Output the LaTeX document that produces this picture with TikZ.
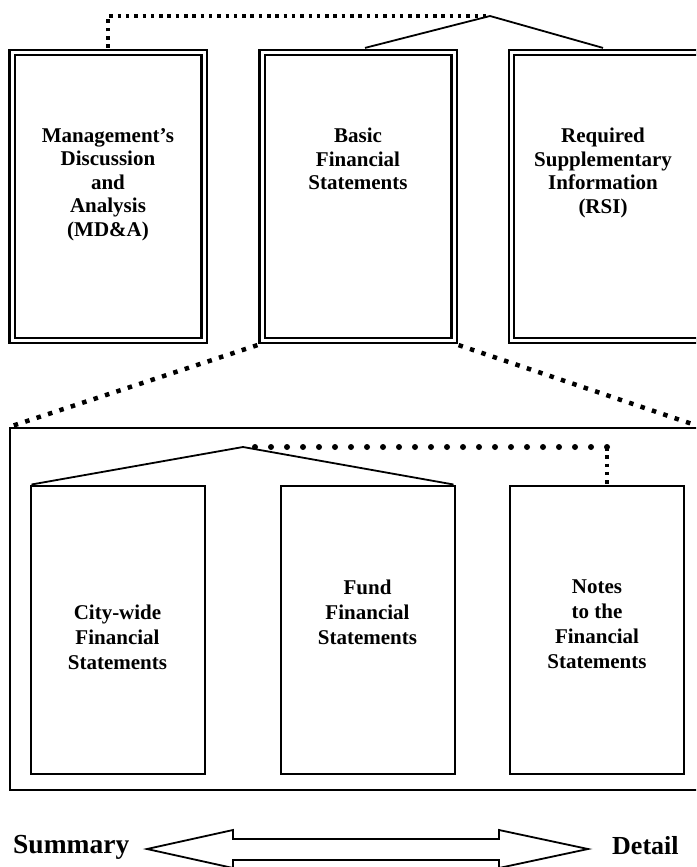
\documentclass[tikz,border=0pt]{standalone}
\usepackage{fontspec}
\setmainfont{Liberation Serif}
\begin{document}
\begin{tikzpicture}[x=1pt,y=-1pt,
  topbox/.style={draw, line width=2.2pt, double, double distance=3pt, minimum width=192pt, minimum height=288pt, inner sep=0pt},
  subbox/.style={draw, line width=2pt, minimum width=174pt, minimum height=288pt, inner sep=0pt},
  boxtext/.style={anchor=north, align=center, inner sep=0pt, font=\fontsize{21}{23.5}\selectfont\bfseries},
  subtext/.style={anchor=north, align=center, inner sep=0pt, font=\fontsize{21}{25}\selectfont\bfseries},
  endtext/.style={anchor=base west, inner sep=0pt, font=\fontsize{26}{30}\selectfont\bfseries},
  sqdots/.style={line width=3.5pt, dash pattern=on 3.5pt off 4.8pt},
  bigdots/.style={line width=4.5pt, dash pattern=on 4.5pt off 7.5pt},
  rounddots/.style={line width=6pt, line cap=round, dash pattern=on 0pt off 16pt}]
  \useasboundingbox (0,0) rectangle (696,867);
  \clip (0,0) rectangle (696,867);

  % top row
  \node[topbox] (mda) at (108,196.5) {};
  \node[topbox] (bfs) at (358,196.5) {};
  \node[topbox] (rsi) at (607.5,196.5) {};
  \node[boxtext] (mdatext) at (108,128) {Management's\\Discussion\\and\\Analysis\\(MD\&A)};
  \node[boxtext] (bfstext) at (358,128) {Basic\\Financial\\Statements};
  \node[boxtext] (rsitext) at (603,128) {Required\\Supplementary\\Information\\(RSI)};

  \coordinate (apex) at (490,16);
  \draw[sqdots] ([yshift=3.5pt]mda.north) |- (apex);
  \draw[line width=1.8pt] ([shift={(7pt,3.5pt)}]bfs.north) -- (apex) -- ([shift={(-4.5pt,3.5pt)}]rsi.north);

  % basic financial statements, opened up
  \node[draw, line width=2pt, minimum width=690pt, minimum height=362pt, inner sep=0pt] (bfsframe) at (355,609) {};
  \draw[bigdots] ([shift={(-3.5pt,-3.5pt)}]bfs.south west) -- (bfsframe.north west);
  \draw[bigdots] ([shift={(3.5pt,-3.5pt)}]bfs.south east) -- (bfsframe.north east);

  \node[subbox] (cw) at (117.5,629.5) {};
  \node[subbox] (fund) at (367.5,629.5) {};
  \node[subbox] (notes) at (597,629.5) {};
  \node[subtext] (cwtext) at (117.5,605) {City-wide\\Financial\\Statements};
  \node[subtext] (fundtext) at (367.5,580) {Fund\\Financial\\Statements};
  \node[subtext] (notestext) at (597,580) {Notes\\to the\\Financial\\Statements};

  \coordinate (apex2) at (243,447);
  \coordinate (turn) at (607,447);
  \draw[line width=1.8pt] ([xshift=2pt]cw.north west) -- (apex2) -- ([xshift=-2pt]fund.north east);
  \draw[rounddots] (turn) -- (apex2);
  \draw[sqdots] (turn) -- ([xshift=10pt]notes.north);

  % summary <-> detail
  \node[endtext, font=\fontsize{27.5}{30}\selectfont\bfseries] (summary) at (13,853) {Summary};
  \node[endtext] (detail) at (612,854) {Detail};
  \draw[line width=1.8pt, fill=white] (147,849) -- (233,830) -- (233,839) -- (499,839) -- (499,830) -- (588,849)
    -- (499,868) -- (499,860) -- (233,860) -- (233,868) -- cycle;
\end{tikzpicture}
\end{document}
